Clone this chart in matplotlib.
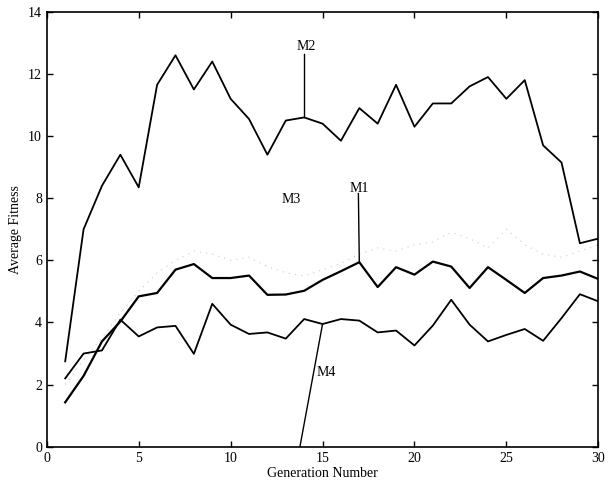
import numpy as np
import matplotlib
matplotlib.use("Agg")
import matplotlib.pyplot as plt

plt.rcParams["font.family"] = ["Liberation Serif", "DejaVu Serif"]

generations = np.arange(1, 31)

m1 = [1.43, 2.28, 3.39, 4.03, 4.84, 4.95, 5.70, 5.88, 5.43, 5.43,
      5.51, 4.89, 4.90, 5.02, 5.37, 5.65, 5.94, 5.14, 5.78, 5.54,
      5.96, 5.80, 5.11, 5.78, 5.37, 4.95, 5.43, 5.51, 5.64, 5.40]
m2 = [2.75, 7.00, 8.40, 9.40, 8.35, 11.65, 12.60, 11.50, 12.40, 11.20,
      10.55, 9.40, 10.50, 10.60, 10.40, 9.85, 10.90, 10.40, 11.65, 10.30,
      11.05, 11.05, 11.60, 11.90, 11.20, 11.80, 9.70, 9.15, 6.55, 6.70]
m3 = [2.00, 2.80, 3.50, 4.30, 5.00, 5.60, 6.00, 6.30, 6.20, 6.00,
      6.10, 5.80, 5.60, 5.50, 5.70, 5.90, 6.20, 6.40, 6.30, 6.50,
      6.60, 6.90, 6.70, 6.40, 7.00, 6.50, 6.20, 6.10, 6.30, 6.50]
m4 = [2.20, 3.00, 3.10, 4.09, 3.55, 3.84, 3.89, 2.99, 4.60, 3.93,
      3.63, 3.68, 3.48, 4.11, 3.95, 4.11, 4.06, 3.68, 3.74, 3.26,
      3.90, 4.73, 3.93, 3.39, 3.60, 3.79, 3.41, 4.14, 4.91, 4.68]

fig = plt.figure(figsize=(6.08, 4.92), dpi=100)
ax = fig.add_axes([0.077, 0.092, 0.907, 0.884])

# M3 is printed as a very faint, sparse dotted trace
ax.plot(generations, m3, color="#d4d4d4", linestyle=(0, (1, 4)), linewidth=0.9)
ax.plot(generations, m2, color="black", linewidth=1.3)
ax.plot(generations, m1, color="black", linewidth=1.6)
ax.plot(generations, m4, color="black", linewidth=1.3)

# leader lines from each curve to its label
ax.plot([14, 14], [m2[13], 12.65], color="black", linewidth=1.0)
ax.plot([17, 16.95], [m1[16], 8.15], color="black", linewidth=1.0)
ax.plot([15, 13.77], [m4[14], 0], color="black", linewidth=1.0)

label_kw = dict(fontsize=10, ha="center", va="center")
ax.text(14.1, 12.88, "M2", **label_kw)
ax.text(17.0, 8.3, "M1", **label_kw)
ax.text(13.3, 7.95, "M3", **label_kw)
ax.text(15.2, 2.4, "M4", **label_kw)

ax.set_xlim(0, 30)
ax.set_ylim(0, 14)
ax.set_xticks(range(0, 31, 5))
ax.set_yticks(range(0, 15, 2))
ax.tick_params(direction="in", top=True, right=True, labelsize=10,
               length=4, width=1)
for spine in ax.spines.values():
    spine.set_linewidth(1.2)

ax.set_xlabel("Generation Number", fontsize=10, labelpad=2)
ax.set_ylabel("Average Fitness", fontsize=10, labelpad=4)

fig.savefig("out.png", dpi=100)
